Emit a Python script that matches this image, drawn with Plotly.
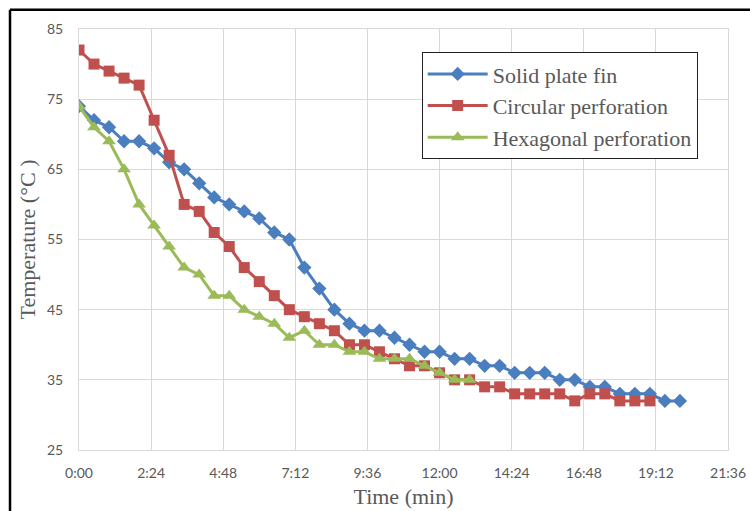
import plotly.graph_objects as go

# Elapsed time in minutes (one reading every 30 s)
TIME_MIN = [0, 0.5, 1, 1.5, 2, 2.5, 3, 3.5, 4, 4.5, 5, 5.5, 6, 6.5, 7, 7.5, 8, 8.5,
            9, 9.5, 10, 10.5, 11, 11.5, 12, 12.5, 13, 13.5, 14, 14.5, 15, 15.5,
            16, 16.5, 17, 17.5, 18, 18.5, 19, 19.5, 20]

# Fin temperatures in °C
SOLID_PLATE = [74, 72, 71, 69, 69, 68, 66, 65, 63, 61, 60, 59, 58, 56, 55, 51, 48, 45,
               43, 42, 42, 41, 40, 39, 39, 38, 38, 37, 37, 36, 36, 36, 35, 35, 34, 34,
               33, 33, 33, 32, 32]
CIRCULAR = [82, 80, 79, 78, 77, 72, 67, 60, 59, 56, 54, 51, 49, 47, 45, 44, 43, 42,
            40, 40, 39, 38, 37, 37, 36, 35, 35, 34, 34, 33, 33, 33, 33, 32, 33, 33,
            32, 32, 32]
HEXAGONAL = [74, 71, 69, 65, 60, 57, 54, 51, 50, 47, 47, 45, 44, 43, 41, 42, 40, 40,
             39, 39, 38, 38, 38, 37, 36, 35, 35]

SERIES_NAMES = ["Solid plate fin", "Circular perforation", "Hexagonal perforation"]

# Axis ticks (h:mm)
X_TICK_MIN = [0, 2.4, 4.8, 7.2, 9.6, 12.0, 14.4, 16.8, 19.2, 21.6]
X_TICK_TEXT = ["0:00", "2:24", "4:48", "7:12", "9:36", "12:00", "14:24", "16:48", "19:12", "21:36"]
Y_TICKS = [25, 35, 45, 55, 65, 75, 85]

styles = [
    dict(color="#4A7EBF", symbol="diamond", size=11),
    dict(color="#C0504D", symbol="square", size=11),
    dict(color="#9BBB59", symbol="triangle-up", size=12),
]

fig = go.Figure()
for name, values, st in zip(SERIES_NAMES, [SOLID_PLATE, CIRCULAR, HEXAGONAL], styles):
    fig.add_trace(go.Scatter(
        x=TIME_MIN[:len(values)], y=values, name=name, mode="lines+markers",
        line=dict(color=st["color"], width=3),
        marker=dict(color=st["color"], symbol=st["symbol"], size=st["size"]),
    ))

tick_font = dict(family="Lato, Carlito, sans-serif", size=14, color="#595959")
title_font = dict(family="Liberation Serif, Times New Roman, serif", size=22, color="#595959")

fig.update_layout(
    width=750, height=511,
    margin=dict(l=79, r=22, t=29, b=61, autoexpand=False),
    paper_bgcolor="white", plot_bgcolor="white",
    showlegend=True,
    legend=dict(
        x=0.528, y=0.945, xanchor="left", yanchor="top",
        bgcolor="white", bordercolor="#222222", borderwidth=1,
        font=title_font, itemwidth=60, tracegroupgap=0,
    ),
    xaxis=dict(
        range=[0, 21.6], tickvals=X_TICK_MIN, ticktext=X_TICK_TEXT, automargin=False,
        showgrid=True, gridcolor="#D9D9D9", gridwidth=1,
        zeroline=False, showline=True, linecolor="#D9D9D9", mirror=True,
        tickfont=tick_font, ticks="outside", ticklen=10, tickcolor="rgba(0,0,0,0)",
        title=dict(text="Time (min)", font=title_font, standoff=8),
    ),
    yaxis=dict(
        range=[25, 85], tickvals=Y_TICKS, automargin=False,
        showgrid=True, gridcolor="#D9D9D9", gridwidth=1,
        zeroline=False, showline=True, linecolor="#D9D9D9", mirror=True,
        tickfont=tick_font, ticks="outside", ticklen=12, tickcolor="rgba(0,0,0,0)",
        title=dict(text="Temperature (°C )", font=title_font, standoff=5),
    ),
    shapes=[
        dict(type="line", xref="paper", yref="paper", x0=-0.1063, x1=1.1, y0=1.0455, y1=1.0455,
             line=dict(color="black", width=2.5)),
        dict(type="line", xref="paper", yref="paper", x0=-0.1063, x1=-0.1063, y0=-0.2, y1=1.0455,
             line=dict(color="black", width=2.5)),
    ],
)

fig.write_html("out.html")
